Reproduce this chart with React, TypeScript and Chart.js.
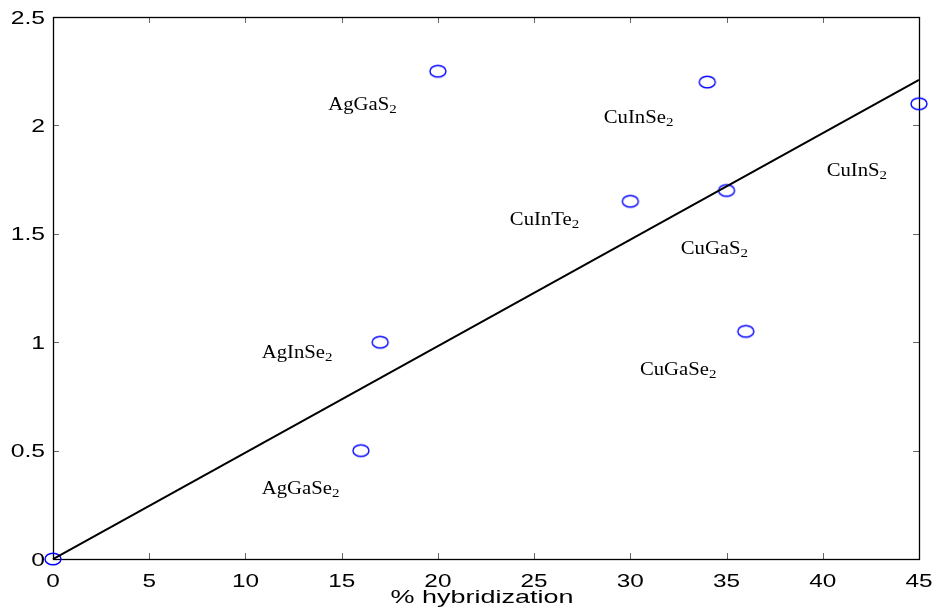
import React, { useEffect, useRef } from 'react';
import { Chart, registerables } from 'chart.js';

Chart.register(...registerables);

// ---- data ----
const hybridization = [0, 16, 17, 20, 30, 34, 35, 36, 45];
const bandValue = [0, 0.5, 1.0, 2.25, 1.65, 2.2, 1.7, 1.05, 2.1];
const fitX = [0, 45];
const fitY = [0, 2.21];

const compoundNames = ['AgGaS', 'CuInSe', 'CuInS', 'CuInTe', 'CuGaS', 'AgInSe', 'CuGaSe', 'AgGaSe'];
const compoundSub = '2';
const labelX = [14.3, 28.62, 40.2, 23.74, 32.62, 10.85, 30.5, 10.85];
const labelY = [2.072, 2.011, 1.766, 1.542, 1.408, 0.928, 0.85, 0.301];

const xTicks = [0, 5, 10, 15, 20, 25, 30, 35, 40, 45];
const xTickLabels = ['0', '5', '10', '15', '20', '25', '30', '35', '40', '45'];
const yTicks = [0, 0.5, 1, 1.5, 2, 2.5];
const yTickLabels = ['0', '0.5', '1', '1.5', '2', '2.5'];
const xTitle = '% hybridization';

function makeEllipse(): HTMLCanvasElement {
  const c = document.createElement('canvas');
  c.width = 20;
  c.height = 16;
  const g = c.getContext('2d')!;
  g.strokeStyle = '#0000ff';
  g.lineWidth = 1.4;
  g.beginPath();
  g.ellipse(10, 8, 8, 5.8, 0, 0, Math.PI * 2);
  g.stroke();
  return c;
}

function stretchText(ctx: CanvasRenderingContext2D, text: string, x: number, y: number, sx: number) {
  ctx.save();
  ctx.translate(x, y);
  ctx.scale(sx, 1);
  ctx.fillText(text, 0, 0);
  ctx.restore();
}

const framePlugin = {
  id: 'matlabFrame',
  beforeDatasetsDraw(chart: any) {
    const ctx: CanvasRenderingContext2D = chart.ctx;
    const { left, right, top, bottom } = chart.chartArea;
    const xs = chart.scales.x;
    const ys = chart.scales.y;
    ctx.save();
    // ticks (inward, all four sides)
    ctx.strokeStyle = '#666';
    ctx.lineWidth = 1;
    const tl = 6;
    ctx.beginPath();
    xTicks.forEach((v) => {
      const px = Math.round(xs.getPixelForValue(v)) + 0.5;
      ctx.moveTo(px, bottom);
      ctx.lineTo(px, bottom - tl);
      ctx.moveTo(px, top);
      ctx.lineTo(px, top + tl);
    });
    yTicks.forEach((v) => {
      const py = Math.round(ys.getPixelForValue(v)) + 0.5;
      ctx.moveTo(left, py);
      ctx.lineTo(left + tl, py);
      ctx.moveTo(right, py);
      ctx.lineTo(right - tl, py);
    });
    ctx.stroke();
    // box
    ctx.strokeStyle = '#000';
    ctx.lineWidth = 1.3;
    ctx.strokeRect(left + 0.5, top + 0.5, right - left, bottom - top);
    ctx.restore();
  },
  afterDraw(chart: any) {
    const ctx: CanvasRenderingContext2D = chart.ctx;
    const { left, bottom } = chart.chartArea;
    const xs = chart.scales.x;
    const ys = chart.scales.y;
    ctx.save();
    ctx.fillStyle = '#000';
    // tick labels
    ctx.font = '19px "Liberation Sans", Arial, sans-serif';
    ctx.textBaseline = 'alphabetic';
    ctx.textAlign = 'center';
    xTicks.forEach((v, i) => {
      stretchText(ctx, xTickLabels[i], xs.getPixelForValue(v), bottom + 28, 1.28);
    });
    ctx.textAlign = 'right';
    yTicks.forEach((v, i) => {
      stretchText(ctx, yTickLabels[i], left - 8, ys.getPixelForValue(v) + 6.5, 1.3);
    });
    // axis title
    ctx.textAlign = 'center';
    ctx.font = '19px "Liberation Sans", Arial, sans-serif';
    stretchText(ctx, xTitle, 482, bottom + 44, 1.42);
    // compound labels
    ctx.textAlign = 'left';
    compoundNames.forEach((name, i) => {
      const px = xs.getPixelForValue(labelX[i]);
      const py = ys.getPixelForValue(labelY[i]);
      ctx.font = '18px "Liberation Serif", "Times New Roman", serif';
      const sx = 1.15;
      const w = ctx.measureText(name).width * sx;
      stretchText(ctx, name, px, py, sx);
      ctx.font = '13px "Liberation Serif", "Times New Roman", serif';
      stretchText(ctx, compoundSub, px + w, py + 3, sx);
    });
    ctx.restore();
  },
};

export default function App() {
  const ref = useRef<HTMLCanvasElement>(null);
  useEffect(() => {
    document.body.style.margin = '0';
    const canvas = ref.current!;
    const marker = makeEllipse();
    const chart = new Chart(canvas, {
      type: 'scatter',
      data: {
        datasets: [
          {
            label: 'fit',
            type: 'line',
            data: fitX.map((x, i) => ({ x, y: fitY[i] })),
            borderColor: '#000',
            borderWidth: 2,
            pointRadius: 0,
            fill: false,
            clip: 4,
          } as any,
          {
            label: 'compounds',
            data: hybridization.map((x, i) => ({ x, y: bandValue[i] })),
            pointStyle: marker as any,
            pointRadius: 8,
            clip: false,
          } as any,
        ],
      },
      options: {
        responsive: false,
        animation: false,
        devicePixelRatio: 1,
        layout: { padding: { left: 53, top: 17, right: 15, bottom: 57 } },
        plugins: { legend: { display: false }, tooltip: { enabled: false } },
        scales: {
          x: { type: 'linear', min: 0, max: 45, display: false },
          y: { type: 'linear', min: 0, max: 2.5, display: false },
        },
      },
      plugins: [framePlugin],
    });
    return () => chart.destroy();
  }, []);
  return (
    <div style={{ width: 934, height: 616, background: '#fff' }}>
      <canvas ref={ref} width={934} height={616} style={{ display: 'block' }} />
    </div>
  );
}
